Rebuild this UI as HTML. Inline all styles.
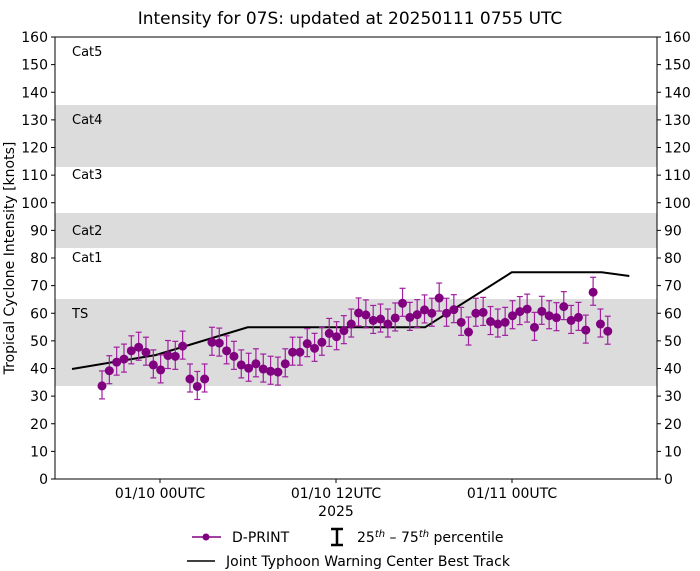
<!DOCTYPE html>
<html><head><meta charset="utf-8"><style>body{margin:0;background:#fff}svg{display:block;font-family:"DejaVu Sans","Liberation Sans",sans-serif}</style></head>
<body>
<svg id="s" width="700" height="571" xmlns="http://www.w3.org/2000/svg">
<rect width="700" height="571" fill="#fff"/>
<rect x="55" y="299" width="602" height="87" fill="#dcdcdc"/>
<rect x="55" y="213" width="602" height="35" fill="#dcdcdc"/>
<rect x="55" y="105" width="602" height="62" fill="#dcdcdc"/>
<g font-size="13" fill="#000">
<text x="72" y="56">Cat5</text><text x="72" y="124">Cat4</text><text x="72" y="179">Cat3</text>
<text x="72" y="235">Cat2</text><text x="72" y="262">Cat1</text><text x="72" y="318">TS</text>
</g>
<g id="ax"></g>
<polyline fill="none" stroke="#000" stroke-width="2" points="72,369 156,355 247.7,327.3 425,327.3 511.7,272.3 601.7,272.3 629.3,276"/>
<g id="pts"></g>
<rect x="55" y="37" width="602" height="442" fill="none" stroke="#000" stroke-width="1"/>
<text x="350" y="24" font-size="17" text-anchor="middle">Intensity for 07S: updated at 20250111 0755 UTC</text>
<text transform="translate(14,258) rotate(-90)" font-size="14" text-anchor="middle">Tropical Cyclone Intensity [knots]</text>
<g font-size="14" text-anchor="middle">
<text x="160" y="498">01/10 00UTC</text><text x="336" y="498">01/10 12UTC</text><text x="512" y="498">01/11 00UTC</text>
<text x="336" y="516">2025</text>
</g>
<line x1="192" y1="537" x2="221" y2="537" stroke="#800080" stroke-width="1.5"/>
<circle cx="206" cy="537" r="3.5" fill="#800080"/>
<text x="232" y="542" font-size="14">D-PRINT</text>
<path d="M331 529h12M337 529v16M331 545h12" stroke="#000" stroke-width="2.5" fill="none"/>
<text x="357" y="542" font-size="14">25<tspan font-size="10" dy="-5" font-style="italic">th</tspan><tspan dy="5"> – 75</tspan><tspan font-size="10" dy="-5" font-style="italic">th</tspan><tspan dy="5"> percentile</tspan></text>
<line x1="187" y1="561" x2="215" y2="561" stroke="#000" stroke-width="1.5"/>
<text x="226" y="566" font-size="14">Joint Typhoon Warning Center Best Track</text>
</svg>
<script>
var NS="http://www.w3.org/2000/svg";
function el(p,t,a){var e=document.createElementNS(NS,t);for(var k in a)e.setAttribute(k,a[k]);p.appendChild(e);return e;}
var ax=document.getElementById('ax');
for(var v=0;v<=160;v+=10){var y=479-v*2.7625;
el(ax,'line',{x1:51,y1:y,x2:55,y2:y,stroke:'#000'});
el(ax,'line',{x1:657,y1:y,x2:661,y2:y,stroke:'#000'});
var t=el(ax,'text',{x:48,y:y+5,'font-size':14,'text-anchor':'end'});t.textContent=v;
var t2=el(ax,'text',{x:664,y:y+5,'font-size':14});t2.textContent=v;}
[160,336,512].forEach(function(x){el(ax,'line',{x1:x,y1:479,x2:x,y2:483,stroke:'#000'});});
var d=[33.7,39.2,42.3,43.4,46.4,47.7,45.9,41.3,39.5,44.7,44.4,48.1,36.2,33.5,36.2,49.5,49.2,46.4,44.4,41.3,40.1,41.7,39.8,39,38.7,41.7,45.9,45.9,49,47.3,49.5,52.7,51.5,53.7,56.1,60.1,59.4,57.4,57.9,56.1,58.3,63.6,58.5,59.5,61.2,60,65.5,60,61.3,56.7,53.2,60,60.3,57,56.1,56.7,59.1,60.6,61.5,54.9,60.7,59.1,58.4,62.4,57.4,58.5,53.9,67.6,56.1,53.5];
var g=document.getElementById('pts');
d.forEach(function(v,i){var x=102+i*7.33,y=479-v*2.7625,lo=y+13,hi=y-15;
el(g,'line',{x1:x,y1:hi,x2:x,y2:lo,stroke:'#a020a0','stroke-width':1.2});
el(g,'line',{x1:x-3,y1:hi,x2:x+3,y2:hi,stroke:'#a020a0','stroke-width':1.2});
el(g,'line',{x1:x-3,y1:lo,x2:x+3,y2:lo,stroke:'#a020a0','stroke-width':1.2});
el(g,'circle',{cx:x,cy:y,r:4.5,fill:'#800080'});});
</script>
</body></html>
